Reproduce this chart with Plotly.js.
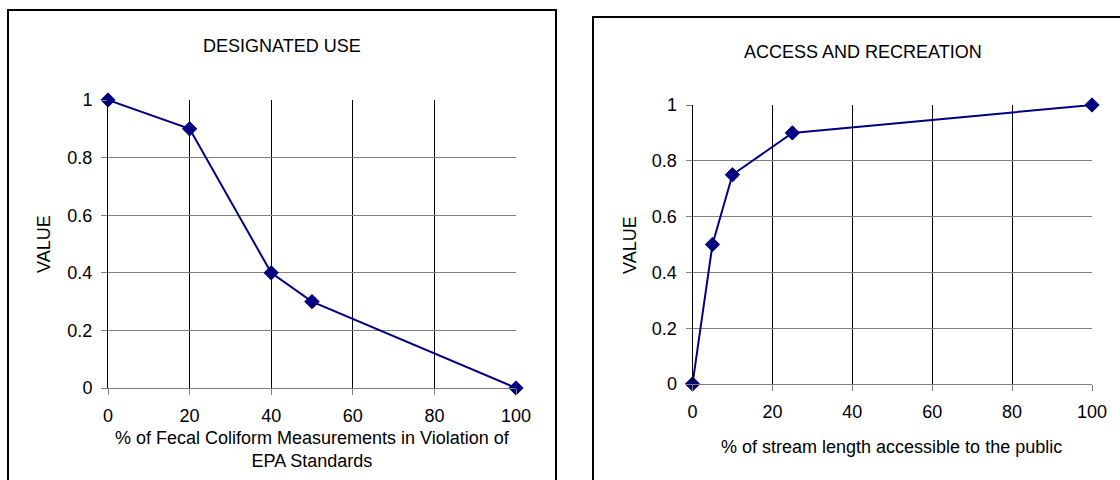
<!DOCTYPE html>
<html>
<head>
<meta charset="utf-8">
<script src="https://cdn.plot.ly/plotly-3.0.1.min.js"></script>
<style>
  html, body { margin: 0; padding: 0; background: #fff; }
  #chart { width: 1120px; height: 480px; }
</style>
</head>
<body>
<div id="chart"></div>
<script>
// Left chart: DESIGNATED USE
const fecalPct = [0, 20, 40, 50, 100];
const fecalValue = [1, 0.9, 0.4, 0.3, 0];
// Right chart: ACCESS AND RECREATION
const accessPct = [0, 5, 10, 25, 100];
const accessValue = [0, 0.5, 0.75, 0.9, 1];

const xTicks = [0, 20, 40, 60, 80, 100];
const yTicks = [0, 0.2, 0.4, 0.6, 0.8, 1];
const yTickText = ['0', '0.2', '0.4', '0.6', '0.8', '1'];

const leftTitle = 'DESIGNATED USE';
const rightTitle = 'ACCESS AND RECREATION';
const leftXTitle = '% of Fecal Coliform Measurements in Violation of<br>EPA Standards';
const rightXTitle = '% of stream length accessible to the public';
const yTitle = 'VALUE';

const W = 1120, H = 480;
const px = v => v / W;
const py = v => 1 - v / H;

const FONT = 'Liberation Sans, Arial, Helvetica, sans-serif';
const NAVY = '#000080';

const lineStyle = { color: NAVY, width: 2 };
const markerStyle = { symbol: 'diamond', size: 11, color: NAVY, line: { color: NAVY, width: 1 } };

const traces = [
  { x: fecalPct, y: fecalValue, xaxis: 'x', yaxis: 'y', mode: 'lines+markers',
    line: lineStyle, marker: markerStyle, cliponaxis: false, showlegend: false, hoverinfo: 'x+y' },
  { x: accessPct, y: accessValue, xaxis: 'x2', yaxis: 'y2', mode: 'lines+markers',
    line: lineStyle, marker: markerStyle, cliponaxis: false, showlegend: false, hoverinfo: 'x+y' }
];

function xAxis(domain, anchor) {
  return {
    domain: domain, anchor: anchor, range: [0, 100],
    tickmode: 'array', tickvals: xTicks,
    showgrid: true, gridcolor: '#000000', gridwidth: 1,
    zeroline: false, showline: true, linecolor: '#808080', linewidth: 1,
    ticks: 'outside', ticklen: 6, tickcolor: '#808080', tickwidth: 1,
    ticklabelstandoff: 5,
    tickfont: { family: FONT, size: 18, color: '#000' },
    fixedrange: true
  };
}
function yAxis(domain, anchor) {
  return {
    domain: domain, anchor: anchor, range: [0, 1],
    tickmode: 'array', tickvals: yTicks, ticktext: yTickText,
    showgrid: true, gridcolor: '#808080', gridwidth: 1,
    zeroline: false, showline: true, linecolor: '#000000', linewidth: 1,
    ticks: 'outside', ticklen: 6, tickcolor: '#808080', tickwidth: 1,
    ticklabelstandoff: 5,
    tickfont: { family: FONT, size: 18, color: '#000' },
    fixedrange: true
  };
}

const txt = (text, x, y, extra) => Object.assign({
  text: text, xref: 'paper', yref: 'paper', x: px(x), y: py(y),
  xanchor: 'center', yanchor: 'middle', showarrow: false,
  font: { family: FONT, size: 18, color: '#000' }
}, extra || {});

const layout = {
  width: W, height: H,
  margin: { l: 0, r: 0, t: 0, b: 0 },
  paper_bgcolor: '#ffffff', plot_bgcolor: '#ffffff',
  font: { family: FONT, size: 18, color: '#000' },
  xaxis: xAxis([px(108), px(516)], 'y'),
  yaxis: yAxis([1 - 388 / H, 1 - 100 / H], 'x'),
  xaxis2: xAxis([px(692.5), px(1092)], 'y2'),
  yaxis2: yAxis([1 - 384 / H, 1 - 105 / H], 'x2'),
  shapes: [
    { type: 'rect', xref: 'paper', yref: 'paper', x0: px(8), x1: px(556), y0: -0.1, y1: py(10),
      line: { color: '#000', width: 2 }, fillcolor: 'rgba(0,0,0,0)', layer: 'below' },
    { type: 'rect', xref: 'paper', yref: 'paper', x0: px(593), x1: px(1135), y0: -0.1, y1: py(17),
      line: { color: '#000', width: 2 }, fillcolor: 'rgba(0,0,0,0)', layer: 'below' }
  ],
  annotations: [
    txt(leftTitle, 282, 46),
    txt(rightTitle, 863, 52),
    txt(leftXTitle, 312, 449),
    txt(rightXTitle, 892, 447),
    txt(yTitle, 44, 244, { textangle: -90 }),
    txt(yTitle, 630, 245, { textangle: -90 })
  ]
};

Plotly.newPlot('chart', traces, layout, { displayModeBar: false, staticPlot: true });
</script>
</body>
</html>
